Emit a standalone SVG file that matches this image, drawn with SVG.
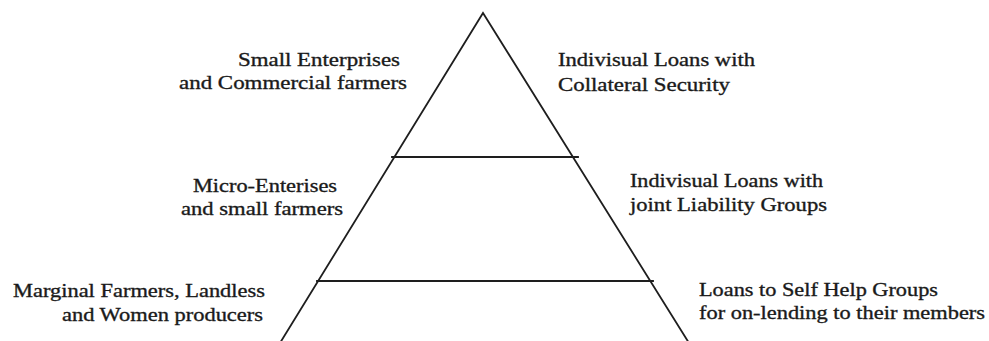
<svg xmlns="http://www.w3.org/2000/svg" width="989" height="341" viewBox="0 0 989 341">
<style>
.ln{fill:none;stroke:#1e1e1e;stroke-width:1.8;stroke-linecap:square}
.t{font-family:"Liberation Serif","Times New Roman",serif;font-size:19px;fill:#1a1a1a;stroke:#1a1a1a;stroke-width:0.35}
</style>
<rect width="989" height="341" fill="#ffffff"/>
<g id="pyramid">
<path class="ln" d="M280,343 L483,13 L689,343"/>
</g>
<g id="connectors">
<line class="ln" x1="392" y1="157" x2="578" y2="157"/>
<line class="ln" x1="317" y1="281" x2="653" y2="281"/>
</g>
<g id="tier-top-left">
<text class="t" x="238" y="66" textLength="162" lengthAdjust="spacingAndGlyphs">Small Enterprises</text>
<text class="t" x="179" y="89" textLength="228" lengthAdjust="spacingAndGlyphs">and Commercial farmers</text>
</g>
<g id="tier-top-right">
<text class="t" x="558" y="66" textLength="197" lengthAdjust="spacingAndGlyphs">Indivisual Loans with</text>
<text class="t" x="558" y="91" textLength="172" lengthAdjust="spacingAndGlyphs">Collateral Security</text>
</g>
<g id="tier-mid-left">
<text class="t" x="193" y="192" textLength="144" lengthAdjust="spacingAndGlyphs">Micro-Enterises</text>
<text class="t" x="181" y="215" textLength="162" lengthAdjust="spacingAndGlyphs">and small farmers</text>
</g>
<g id="tier-mid-right">
<text class="t" x="630" y="187" textLength="193" lengthAdjust="spacingAndGlyphs">Indivisual Loans with</text>
<text class="t" x="630" y="211" textLength="197" lengthAdjust="spacingAndGlyphs">joint Liability Groups</text>
</g>
<g id="tier-bottom-left">
<text class="t" x="13" y="297" textLength="252" lengthAdjust="spacingAndGlyphs">Marginal Farmers, Landless</text>
<text class="t" x="62" y="321" textLength="201" lengthAdjust="spacingAndGlyphs">and Women producers</text>
</g>
<g id="tier-bottom-right">
<text class="t" x="699" y="296" textLength="239" lengthAdjust="spacingAndGlyphs">Loans to Self Help Groups</text>
<text class="t" x="699" y="319" textLength="286" lengthAdjust="spacingAndGlyphs">for on-lending to their members</text>
</g>
</svg>
